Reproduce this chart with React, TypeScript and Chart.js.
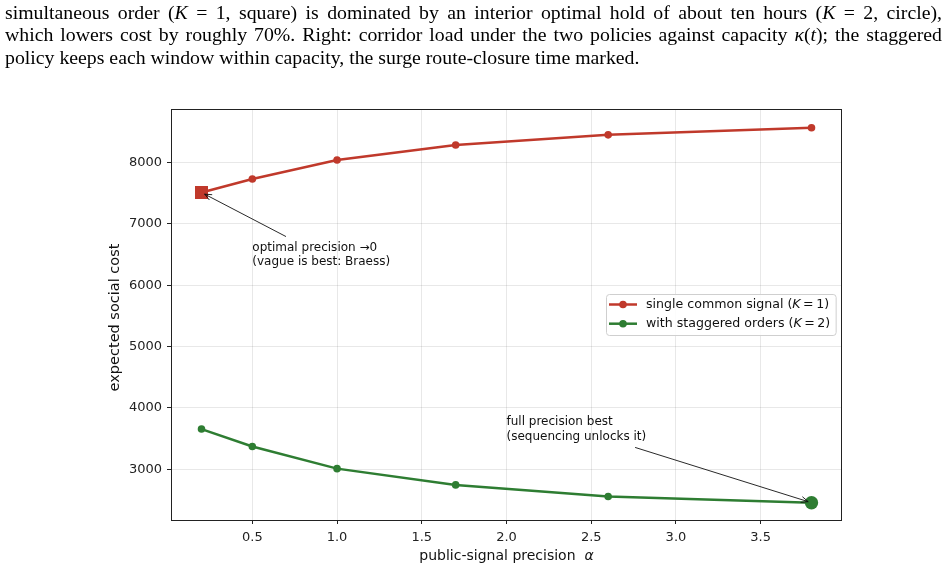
import React, { useEffect, useRef } from "react";
import { Chart, registerables } from "chart.js";

Chart.register(...registerables);

// public-signal precision values where the cost was evaluated
const alphaValues = [0.2, 0.5, 1.0, 1.7, 2.6, 3.8];
// expected social cost, single common signal (K = 1)
const singleSignalCost = [7510, 7730, 8040, 8285, 8450, 8565];
// expected social cost, staggered orders (K = 2)
const staggeredCost = [3655, 3370, 3010, 2745, 2555, 2455];

const xTickValues = [0.5, 1.0, 1.5, 2.0, 2.5, 3.0, 3.5];
const yTickValues = [3000, 4000, 5000, 6000, 7000, 8000];

// axis limits
const xLimits = [0.02, 3.98];
const yLimits = [2173, 8871];

const RED = "#c0392b";
const GREEN = "#2e7d32";
const FONT = "DejaVu Sans";

type Seg = { t: string; it?: boolean };

function drawSegs(ctx: CanvasRenderingContext2D, segs: Seg[], x: number, y: number, size: number) {
  let cx = x;
  for (const s of segs) {
    ctx.font = (s.it ? "italic " : "") + size + "px '" + FONT + "'";
    ctx.fillText(s.t, cx, y);
    cx += ctx.measureText(s.t).width;
  }
  return cx - x;
}

function segsWidth(ctx: CanvasRenderingContext2D, segs: Seg[], size: number) {
  let w = 0;
  for (const s of segs) {
    ctx.font = (s.it ? "italic " : "") + size + "px '" + FONT + "'";
    w += ctx.measureText(s.t).width;
  }
  return w;
}

// arrow from the edge of a text box toward a target point (open "->" head)
function drawArrow(ctx: CanvasRenderingContext2D, box: { l: number; t: number; r: number; b: number }, tx: number, ty: number) {
  const pad = 4;
  const l = box.l - pad, r = box.r + pad, t = box.t - pad, b = box.b + pad;
  const cx = (box.l + box.r) / 2;
  const cy = (box.t + box.b) / 2;
  const dx = tx - cx;
  const dy = ty - cy;
  let k = 1;
  if (dx !== 0) k = Math.min(k, ((dx > 0 ? r : l) - cx) / dx);
  if (dy !== 0) k = Math.min(k, ((dy > 0 ? b : t) - cy) / dy);
  const sx = cx + dx * k;
  const sy = cy + dy * k;
  const len = Math.hypot(tx - sx, ty - sy);
  const ux = (tx - sx) / len;
  const uy = (ty - sy) / len;
  const ex = tx - ux * 3.5;
  const ey = ty - uy * 3.5;
  ctx.save();
  ctx.strokeStyle = "#111";
  ctx.lineWidth = 0.9;
  ctx.beginPath();
  ctx.moveTo(sx, sy);
  ctx.lineTo(ex, ey);
  const hl = 7, hw = 3;
  ctx.moveTo(ex - ux * hl - uy * hw, ey - uy * hl + ux * hw);
  ctx.lineTo(ex, ey);
  ctx.lineTo(ex - ux * hl + uy * hw, ey - uy * hl - ux * hw);
  ctx.stroke();
  ctx.restore();
}

const decorations = {
  id: "decorations",
  afterDatasetsDraw(chart: any) {
    const { ctx, chartArea: a, scales } = chart;
    const xs = scales.x;
    const ys = scales.y;

    // full frame around the axes
    ctx.save();
    ctx.strokeStyle = "#222";
    ctx.lineWidth = 1;
    ctx.strokeRect(Math.round(a.left) + 0.5, Math.round(a.top) + 0.5, Math.round(a.right - a.left) - 1, Math.round(a.bottom - a.top));
    ctx.restore();

    ctx.save();
    ctx.fillStyle = "#111";
    ctx.textBaseline = "middle";
    ctx.textAlign = "left";

    // annotations
    const annSize = 12;
    const lineGap = 14.8;
    const notes = [
      { x: 0.5, y: 6613, lines: ["optimal precision \u21920", "(vague is best: Braess)"], tx: alphaValues[0], ty: singleSignalCost[0] },
      { x: 2.0, y: 3776, lines: ["full precision best", "(sequencing unlocks it)"], tx: alphaValues[5], ty: staggeredCost[5] },
    ];
    for (const n of notes) {
      const px = xs.getPixelForValue(n.x);
      const py = ys.getPixelForValue(n.y);
      ctx.font = annSize + "px '" + FONT + "'";
      let w = 0;
      n.lines.forEach((ln, i) => {
        ctx.fillText(ln, px, py + i * lineGap);
        w = Math.max(w, ctx.measureText(ln).width);
      });
      const box = { l: px, r: px + w, t: py - 7, b: py + lineGap * (n.lines.length - 1) + 7 };
      drawArrow(ctx, box, xs.getPixelForValue(n.tx), ys.getPixelForValue(n.ty));
    }

    // legend
    const lgSize = 12.6;
    const entries: { color: string; segs: Seg[] }[] = [
      { color: RED, segs: [{ t: "single common signal (" }, { t: "K", it: true }, { t: "\u2009=\u2009" }, { t: "1)" }] },
      { color: GREEN, segs: [{ t: "with staggered orders (" }, { t: "K", it: true }, { t: "\u2009=\u2009" }, { t: "2)" }] },
    ];
    const textW = Math.max(...entries.map((e) => segsWidth(ctx, e.segs, lgSize)));
    const bx = 606.5;
    const by = 294.5;
    const bw = 646 - bx + textW + 6;
    const bh = 41;
    ctx.save();
    ctx.fillStyle = "rgba(255,255,255,0.85)";
    ctx.strokeStyle = "#cfcfcf";
    ctx.lineWidth = 1;
    ctx.beginPath();
    (ctx as any).roundRect(bx, by, bw, bh, 3);
    ctx.fill();
    ctx.stroke();
    ctx.restore();
    entries.forEach((e, i) => {
      const cy = 304.5 + i * 19.2;
      ctx.save();
      ctx.strokeStyle = e.color;
      ctx.fillStyle = e.color;
      ctx.lineWidth = 2.5;
      ctx.beginPath();
      ctx.moveTo(609, cy);
      ctx.lineTo(637, cy);
      ctx.stroke();
      ctx.beginPath();
      ctx.arc(623, cy, 3.8, 0, Math.PI * 2);
      ctx.fill();
      ctx.restore();
      ctx.fillStyle = "#111";
      drawSegs(ctx, e.segs, 646, cy, lgSize);
    });

    // axis titles
    const titleSize = 14;
    ctx.fillStyle = "#111";
    const xTitle: Seg[] = [{ t: "public-signal precision  " }, { t: "\u03b1", it: true }];
    const xtw = segsWidth(ctx, xTitle, titleSize);
    drawSegs(ctx, xTitle, (a.left + a.right) / 2 - xtw / 2, 556, titleSize);

    ctx.save();
    ctx.translate(115, (a.top + a.bottom) / 2 + 3);
    ctx.rotate(-Math.PI / 2);
    ctx.textAlign = "center";
    ctx.font = "14.5px '" + FONT + "'";
    ctx.fillText("expected social cost", 0, 0);
    ctx.restore();

    ctx.restore();
  },
};

function CostChart() {
  const ref = useRef<HTMLCanvasElement>(null);
  useEffect(() => {
    if (!ref.current) return;
    const last = alphaValues.length - 1;
    const chart = new Chart(ref.current, {
      type: "line",
      data: {
        datasets: [
          {
            label: "single common signal (K = 1)",
            data: alphaValues.map((a, i) => ({ x: a, y: singleSignalCost[i] })),
            borderColor: RED,
            backgroundColor: RED,
            borderWidth: 2.5,
            pointStyle: alphaValues.map((_, i) => (i === 0 ? "rect" : "circle")) as any,
            pointRadius: alphaValues.map((_, i) => (i === 0 ? 9.2 : 3.8)),
            pointBorderWidth: 0,
            tension: 0,
          },
          {
            label: "with staggered orders (K = 2)",
            data: alphaValues.map((a, i) => ({ x: a, y: staggeredCost[i] })),
            borderColor: GREEN,
            backgroundColor: GREEN,
            borderWidth: 2.5,
            pointStyle: "circle",
            pointRadius: alphaValues.map((_, i) => (i === last ? 6.7 : 3.8)),
            pointBorderWidth: 0,
            tension: 0,
          },
        ],
      },
      options: {
        animation: false,
        responsive: false,
        devicePixelRatio: 1,
        layout: { padding: { top: 109, right: 106, left: 0, bottom: 0 } },
        plugins: { legend: { display: false }, tooltip: { enabled: false } },
        scales: {
          x: {
            type: "linear",
            min: xLimits[0],
            max: xLimits[1],
            afterBuildTicks: (s: any) => {
              s.ticks = xTickValues.map((v) => ({ value: v }));
            },
            afterFit: (s: any) => {
              s.height = 50;
            },
            ticks: {
              font: { family: FONT, size: 13 },
              color: "#222",
              padding: 6,
              maxRotation: 0,
              callback: (v: any) => Number(v).toFixed(1),
            },
            grid: { color: "rgba(0,0,0,0.09)", lineWidth: 1, tickLength: 4, tickColor: "#222", drawTicks: true },
            border: { display: false },
          },
          y: {
            type: "linear",
            min: yLimits[0],
            max: yLimits[1],
            afterBuildTicks: (s: any) => {
              s.ticks = yTickValues.map((v) => ({ value: v }));
            },
            afterFit: (s: any) => {
              s.width = 171;
            },
            ticks: {
              font: { family: FONT, size: 13 },
              color: "#222",
              padding: 5,
              callback: (v: any) => String(v),
            },
            grid: { color: "rgba(0,0,0,0.09)", lineWidth: 1, tickLength: 4, tickColor: "#222", drawTicks: true },
            border: { display: false },
          },
        },
      },
      plugins: [decorations],
    });
    return () => chart.destroy();
  }, []);
  return <canvas ref={ref} width={948} height={570} style={{ position: "absolute", left: 0, top: 0, width: 948, height: 570 }} />;
}

const captionStyle: React.CSSProperties = {
  position: "absolute",
  left: 5,
  top: 1,
  width: 937,
  fontFamily: "'Liberation Serif', serif",
  fontSize: 19.8,
  lineHeight: "22.3px",
  color: "#000",
};

const justified: React.CSSProperties = { textAlign: "justify", textAlignLast: "justify" };

export default function App() {
  return (
    <div style={{ position: "absolute", left: 0, top: 0, width: 948, height: 570, overflow: "hidden", background: "#fff" }}>
      <CostChart />
      <div style={captionStyle}>
        <div style={justified}>
          simultaneous order (<i>K</i>&nbsp;=&nbsp;1, square) is dominated by an interior optimal hold of about ten hours (<i>K</i>&nbsp;=&nbsp;2, circle),
        </div>
        <div style={justified}>
          which lowers cost by roughly 70%. Right: corridor load under the two policies against capacity <i>κ</i>(<i>t</i>); the staggered
        </div>
        <div>policy keeps each window within capacity, the surge route-closure time marked.</div>
      </div>
    </div>
  );
}
